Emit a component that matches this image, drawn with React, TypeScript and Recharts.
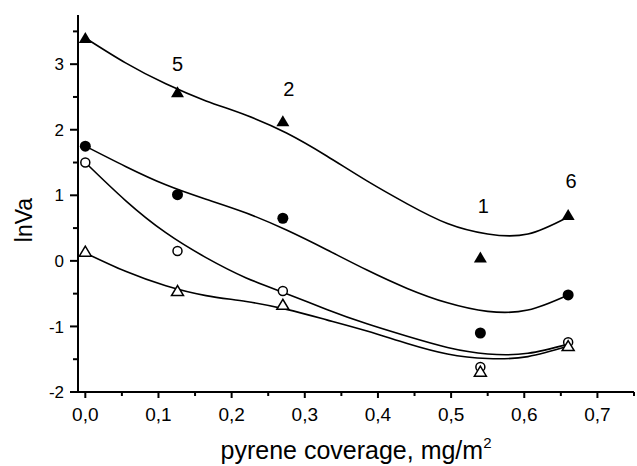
import React from 'react';
import { ComposedChart, Line, Scatter, XAxis, YAxis, Customized } from 'recharts';

const curveX = [0, 0.055, 0.11, 0.165, 0.22, 0.275, 0.33, 0.385, 0.44, 0.495, 0.55, 0.605, 0.66];
// fitted curves
const fitFilledTriangle = [3.40, 3.02, 2.70, 2.44, 2.22, 1.95, 1.60, 1.22, 0.87, 0.57, 0.41, 0.41, 0.67];
const fitFilledCircle = [1.75, 1.44, 1.16, 0.94, 0.73, 0.47, 0.17, -0.14, -0.42, -0.64, -0.77, -0.75, -0.52];
const fitOpenCircle = [1.50, 0.92, 0.43, 0.05, -0.26, -0.50, -0.74, -0.96, -1.15, -1.32, -1.42, -1.41, -1.27];
const fitOpenTriangle = [0.12, -0.16, -0.38, -0.53, -0.62, -0.74, -0.90, -1.07, -1.26, -1.42, -1.49, -1.46, -1.30];

// measured points
const pointX = [0, 0.126, 0.27, 0.54, 0.66];
const filledTriangle = [3.40, 2.57, 2.13, 0.05, 0.70];
const filledCircle = [1.75, 1.01, 0.65, -1.10, -0.52];
const openCircle = [1.50, 0.15, -0.46, -1.62, -1.24];
const openTriangle = [0.14, -0.46, -0.67, -1.69, -1.30];

// curve numbers
const noteText = ['5', '2', '1', '6'];
const noteX = [0.126, 0.278, 0.544, 0.664];
const noteY = [3.01, 2.62, 0.835, 1.22];

const xTicks = [0, 0.05, 0.1, 0.15, 0.2, 0.25, 0.3, 0.35, 0.4, 0.45, 0.5, 0.55, 0.6, 0.65, 0.7, 0.75];
const yTicks = [-2, -1.5, -1, -0.5, 0, 0.5, 1, 1.5, 2, 2.5, 3, 3.5];

const FONT = '"Liberation Sans", Arial, sans-serif';

const toRows = (xs: number[], ys: number[]) => xs.map((x, i) => ({ x, y: ys[i] }));

const XTick = (props: any) => {
  const { x, y, payload } = props;
  const v = payload.value as number;
  const major = Math.abs(v * 10 - Math.round(v * 10)) < 1e-6;
  return (
    <g>
      <line x1={x} x2={x} y1={y} y2={y + (major ? 6 : 4)} stroke="#000" strokeWidth={2} />
      {major && (
        <text x={x} y={y + 29} textAnchor="middle" fontSize={19} fontFamily={FONT} fill="#000">
          {v.toFixed(1).replace('.', ',')}
        </text>
      )}
    </g>
  );
};

const YTick = (props: any) => {
  const { x, y, payload } = props;
  const v = payload.value as number;
  const major = Math.abs(v - Math.round(v)) < 1e-6;
  return (
    <g>
      <line x1={x - (major ? 8 : 5)} x2={x} y1={y} y2={y} stroke="#000" strokeWidth={2} />
      {major && (
        <text x={x - 14} y={y} dy="0.36em" textAnchor="end" fontSize={17} fontFamily={FONT} fill="#000">
          {String(Math.round(v))}
        </text>
      )}
    </g>
  );
};

const FilledTriangle = (p: any) => (
  <polygon points={`${p.cx},${p.cy - 6} ${p.cx - 6.5},${p.cy + 5} ${p.cx + 6.5},${p.cy + 5}`} fill="#000" />
);
const OpenTriangle = (p: any) => (
  <polygon points={`${p.cx},${p.cy - 5.5} ${p.cx - 6},${p.cy + 4.5} ${p.cx + 6},${p.cy + 4.5}`} fill="#fff" stroke="#000" strokeWidth={1.5} />
);
const FilledCircle = (p: any) => <circle cx={p.cx} cy={p.cy} r={5.5} fill="#000" />;
const OpenCircle = (p: any) => <circle cx={p.cx} cy={p.cy} r={4.5} fill="#fff" stroke="#000" strokeWidth={1.5} />;
const NoteShape = (p: any) => (
  <text x={p.cx} y={p.cy} dy="0.36em" textAnchor="middle" fontSize={20} fontFamily={FONT} fill="#000">
    {p.payload.label}
  </text>
);

const Titles = () => (
  <g>
    <text x={356} y={459} textAnchor="middle" fontSize={25} fontFamily={FONT} fill="#000">
      pyrene coverage, mg/m
      <tspan dy={-11} fontSize={15}>2</tspan>
    </text>
    <text x={32} y={220} transform="rotate(-90 32 220)" textAnchor="middle" fontSize={23} fontFamily={FONT} fill="#000">
      lnVa
    </text>
  </g>
);

export default function App() {
  const notes = noteText.map((t, i) => ({ x: noteX[i], y: noteY[i], label: t }));
  return (
    <div style={{ position: 'absolute', left: 0, top: 0, background: '#fff' }}>
      <ComposedChart width={637} height={466} margin={{ top: 15, right: 3, bottom: 34, left: 18 }}>
        <XAxis
          type="number"
          dataKey="x"
          domain={[-0.01, 0.75]}
          ticks={xTicks}
          interval={0}
          allowDataOverflow
          height={40}
          tickSize={0}
          tickMargin={0}
          tickLine={false}
          axisLine={{ stroke: '#000', strokeWidth: 2 }}
          tick={XTick}
        />
        <YAxis
          type="number"
          dataKey="y"
          domain={[-2, 3.75]}
          ticks={yTicks}
          interval={0}
          allowDataOverflow
          width={60}
          tickSize={0}
          tickMargin={0}
          tickLine={false}
          axisLine={{ stroke: '#000', strokeWidth: 2 }}
          tick={YTick}
        />
        <Line data={toRows(curveX, fitFilledTriangle)} dataKey="y" type="natural" stroke="#000" strokeWidth={1.6} dot={false} isAnimationActive={false} />
        <Line data={toRows(curveX, fitFilledCircle)} dataKey="y" type="natural" stroke="#000" strokeWidth={1.6} dot={false} isAnimationActive={false} />
        <Line data={toRows(curveX, fitOpenCircle)} dataKey="y" type="natural" stroke="#000" strokeWidth={1.6} dot={false} isAnimationActive={false} />
        <Line data={toRows(curveX, fitOpenTriangle)} dataKey="y" type="natural" stroke="#000" strokeWidth={1.6} dot={false} isAnimationActive={false} />
        <Scatter data={toRows(pointX, filledTriangle)} shape={FilledTriangle} isAnimationActive={false} />
        <Scatter data={toRows(pointX, filledCircle)} shape={FilledCircle} isAnimationActive={false} />
        <Scatter data={toRows(pointX, openCircle)} shape={OpenCircle} isAnimationActive={false} />
        <Scatter data={toRows(pointX, openTriangle)} shape={OpenTriangle} isAnimationActive={false} />
        <Scatter data={notes} shape={NoteShape} isAnimationActive={false} />
        <Customized component={Titles} />
      </ComposedChart>
    </div>
  );
}
